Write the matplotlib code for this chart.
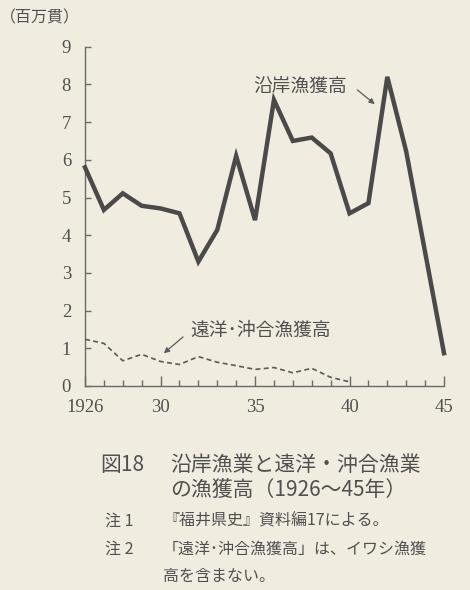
import matplotlib
matplotlib.use("Agg")
import matplotlib.pyplot as plt
from matplotlib.ticker import MultipleLocator

# data (百万貫)
years = list(range(1926, 1946))
coastal = [5.8, 4.67, 5.11, 4.78, 4.71, 4.58, 3.30, 4.14, 6.10, 4.40,
           7.59, 6.50, 6.59, 6.17, 4.58, 4.85, 8.20, 6.22, 3.55, 0.87]
offshore_years = list(range(1926, 1941))
offshore = [1.24, 1.13, 0.67, 0.84, 0.65, 0.57, 0.78, 0.63, 0.54, 0.44,
            0.49, 0.35, 0.47, 0.23, 0.11]

xticks = [1926, 1930, 1935, 1940, 1945]
xlabels = ["1926", "30", "35", "40", "45"]
yticks = list(range(0, 10))

BG = "#f1ece0"
INK = "#4a4a4a"
TXT = "#505050"
JP = ["Noto Sans CJK JP", "DejaVu Sans"]

W, H = 470, 590
fig = plt.figure(figsize=(W / 100, H / 100), dpi=100, facecolor=BG)
ax = fig.add_axes([85 / W, 1 - 386 / H, (444 - 85) / W, (386 - 46.7) / H])
ax.set_facecolor(BG)

ax.plot(years, coastal, color=INK, linewidth=3.2, solid_joinstyle="miter",
        clip_on=False, zorder=3)
ax.plot(offshore_years, offshore, color="#5a5a5a", linewidth=1.2,
        dashes=(3, 2), clip_on=False, zorder=3)

ax.set_xlim(1926, 1945)
ax.set_ylim(0, 9)
for s in ["top", "right"]:
    ax.spines[s].set_visible(False)
for s in ["left", "bottom"]:
    ax.spines[s].set_color("#6a6a6a")
    ax.spines[s].set_linewidth(1.0)

ax.set_xticks(xticks)
ax.set_xticklabels(xlabels, family="Liberation Serif", fontsize=13.5, color=TXT)
ax.xaxis.set_minor_locator(MultipleLocator(1))
ax.set_yticks(yticks)
ax.set_yticklabels([str(v) for v in yticks], family="Liberation Serif",
                   fontsize=13.5, color=TXT)
ax.tick_params(axis="x", which="major", direction="in", length=7, width=1,
               color="#6a6a6a", pad=9)
ax.tick_params(axis="x", which="minor", direction="in", length=4, width=1,
               color="#6a6a6a")
ax.tick_params(axis="y", direction="in", length=4, width=1,
               color="#6a6a6a", pad=10)

# series labels with arrows
ax.annotate("", xy=(1941.45, 7.43), xytext=(1940.3, 7.9),
            arrowprops=dict(arrowstyle="-|>", color="#5a5a5a", lw=0.9,
                            mutation_scale=8))
ax.text(1934.9, 7.96, "沿岸漁獲高", family=JP, fontsize=13.5, color=TXT,
        ha="left", va="center")
ax.annotate("", xy=(1930.06, 0.82), xytext=(1931.3, 1.35),
            arrowprops=dict(arrowstyle="-|>", color="#5a5a5a", lw=0.9,
                            mutation_scale=8))
ax.text(1931.6, 1.48, "遠洋･沖合漁獲高", family=JP, fontsize=13.5, color=TXT,
        ha="left", va="center")

# unit label
fig.text(0 / W, 1 - 18 / H, "（百万貫）", family=JP, fontsize=11.5, color=TXT,
         ha="left", va="center")

# caption
fig.text(100 / W, 1 - 465 / H, "図18", family=JP, fontsize=15, color=TXT,
         ha="left", va="center")
fig.text(170 / W, 1 - 465 / H, "沿岸漁業と遠洋・沖合漁業", family=JP,
         fontsize=15, color=TXT, ha="left", va="center")
fig.text(170 / W, 1 - 490 / H, "の漁獲高（1926〜45年）", family=JP,
         fontsize=15, color=TXT, ha="left", va="center")

# notes
fig.text(105 / W, 1 - 521 / H, "注 1", family=JP, fontsize=11.5, color=TXT,
         ha="left", va="center")
fig.text(163 / W, 1 - 521 / H, "『福井県史』資料編17による。", family=JP,
         fontsize=11.5, color=TXT, ha="left", va="center")
fig.text(105 / W, 1 - 549 / H, "注 2", family=JP, fontsize=11.5, color=TXT,
         ha="left", va="center")
fig.text(163 / W, 1 - 549 / H, "「遠洋･沖合漁獲高」は、イワシ漁獲", family=JP,
         fontsize=11.5, color=TXT, ha="left", va="center")
fig.text(163 / W, 1 - 577 / H, "高を含まない。", family=JP,
         fontsize=11.5, color=TXT, ha="left", va="center")

fig.savefig("out.png", dpi=100, facecolor=BG)
